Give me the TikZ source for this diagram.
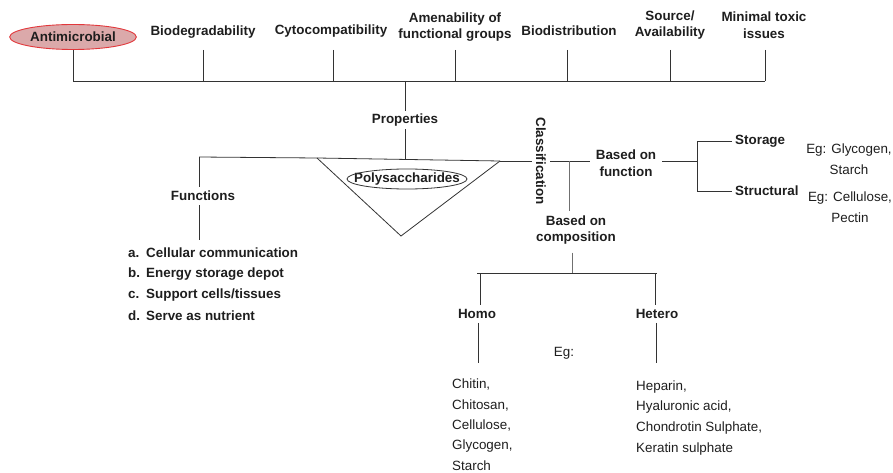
\documentclass[tikz,border=0pt]{standalone}
\usepackage{fontspec}
\setmainfont{Liberation Sans}
\usepackage{tikz}
\usetikzlibrary{shapes.geometric, positioning, calc}
\usepackage{xcolor}
\definecolor{linec}{HTML}{333333}
\definecolor{stemc}{HTML}{707070}
\definecolor{textc}{HTML}{1E1E1E}
\definecolor{pinkfill}{HTML}{DBA9AA}
\definecolor{redline}{HTML}{E2383C}

\begin{document}
\begin{tikzpicture}[
  x=1pt, y=-1pt,
  head/.style={font=\bfseries\fontsize{13.4}{16.5}\selectfont, text=textc,
               align=center, inner sep=2pt},
  plain/.style={font=\fontsize{13.4}{20.5}\selectfont, text=textc, align=center},
  branch/.style={head, inner sep=5pt},
  listitem/.style={head, anchor=west, inner sep=0pt},
  eglist/.style={plain, anchor=west, inner sep=0pt},
  oval/.style={head, ellipse, draw=redline, line width=0.9pt, fill=pinkfill,
               inner sep=2pt, minimum height=25pt},
  link/.style={draw=linec, line width=0.8pt},
  stem/.style={draw=stemc, line width=0.9pt}
]
\useasboundingbox (0,0) rectangle (893,473);

%% Properties (top row)
\node[oval] (anti)    at (73,37)   {Antimicrobial};
\node[head] (biodeg)  at (203,32)  {Biodegradability};
\node[head] (cyto)    at (331,31)  {Cytocompatibility};
\node[head] (amen)    at (455,27)  {Amenability of\\functional groups};
\node[head] (biodist) at (569,31)  {Biodistribution};
\node[head] (source)  at (670,25)  {Source/\\Availability};
\node[head] (toxic)   at (764,25)  {Minimal toxic\\issues};

\coordinate (tick) at (0,50);
\coordinate (bus)  at (405,81);

%% Ticks down to the bus
\draw[link] (anti.south) -- (anti |- bus);
\foreach \n/\dx in {biodeg/0, cyto/2, amen/0, biodist/-2, source/0, toxic/1}
  \draw[link] ([xshift=\dx pt]\n |- tick) -- ([xshift=\dx pt]\n |- bus);
\draw[link] (anti |- bus) -- ([xshift=1pt]toxic |- bus);

%% Stem to the centre
\node[head, inner sep=3pt] (props) at (405,120) {Properties};
\draw[link] (bus) -- (props.north);
\coordinate (hub) at (405,159);
\draw[link] (props.south) -- (hub);

%% Centre line and triangle
\coordinate (fnc) at (199,157);
\coordinate (tl)  at (317,158);
\coordinate (tr)  at (500,161);
\coordinate (tip) at (401,236);
\draw[link] (fnc) -- (tl) -- (tr);
\draw[link] (tl) -- (tip) -- (tr);
\node[head] (poly) at (407,179) {Polysaccharides};
\draw[link] (poly.center) ellipse [x radius=60pt, y radius=10pt];

%% Functions
\node[head, inner sep=4pt] (funcs) at (203,196) {Functions};
\draw[link] (fnc) -- (fnc |- funcs.north);
\foreach \l/\t [count=\i] in {a/{Cellular communication}, b/{Energy storage depot},
                              c/{Support cells/tissues}, d/{Serve as nutrient}}
  \node[listitem] (fn\i) at (128,232+21*\i) {\makebox[18pt][l]{\l.}\t};
\draw[link] (fnc |- funcs.south) -- ([yshift=8pt]fnc |- fn1.north);

%% Classification
\node[head, rotate=-90, inner sep=4pt] (cls) at (541,161) {Classification};
\draw[link] (tr) -- (cls.south |- tr);

\node[head, inner sep=6pt] (bfunc) at (626,163) {Based on\\function};
\draw[link] (cls.north |- tr) -- (bfunc.west |- tr);

\node[head, inner sep=4pt] (bcomp) at (576,230) {Based on\\composition};
\coordinate (cj) at (569,161);
\draw[stem] (cj) -- (cj |- bcomp.north);

%% Based on function
\coordinate (sj) at (697,161);
\node[branch, anchor=west] (storage)    at (730,141) {Storage};
\node[branch, anchor=west] (structural) at (730,191) {Structural};
\draw[link] (bfunc.east |- sj) -- (sj);
\draw[link] ([xshift=2pt]storage.west) -| (sj |- structural.west) -- ([xshift=2pt]structural.west);
\node[plain] (egstore) at (849,159) {Eg: Glycogen,\\Starch};
\node[plain] (egstruct) at (850,207) {Eg: Cellulose,\\Pectin};

%% Based on composition
\coordinate (hj) at (572,273);
\node[head, inner sep=4pt] (homo)   at (477,314) {Homo};
\node[head, inner sep=4pt] (hetero) at (657,314) {Hetero};
\draw[stem] ([yshift=-4pt]hj |- bcomp.south) -- (hj);
\draw[link] (hj -| homo) -- (hj -| hetero);
\draw[link] ([xshift=3pt]hj -| homo) -- ([xshift=3pt]homo.north);
\draw[link] ([xshift=-2pt]hj -| hetero) -- ([xshift=-2pt]hetero.north);

\node[plain, inner sep=4pt] (eg) at (564,353) {Eg:};
\draw[link] ([xshift=1pt]homo.south) -- ([xshift=1pt]homo.south |- eg.south);
\draw[link] ([xshift=-1pt]hetero.south) -- ([xshift=-1pt]hetero.south |- eg.south);

\foreach \t [count=\i] in {{Chitin,},{Chitosan,},{Cellulose,},{Glycogen,},{Starch}}
  \node[eglist] (hm\i) at (452,364.5+20.3*\i) {\t};
\foreach \t [count=\i] in {{Heparin,},{Hyaluronic acid,},{Chondrotin Sulphate,},{Keratin sulphate}}
  \node[eglist] (ht\i) at (636,366+20.7*\i) {\t};

\end{tikzpicture}
\end{document}
